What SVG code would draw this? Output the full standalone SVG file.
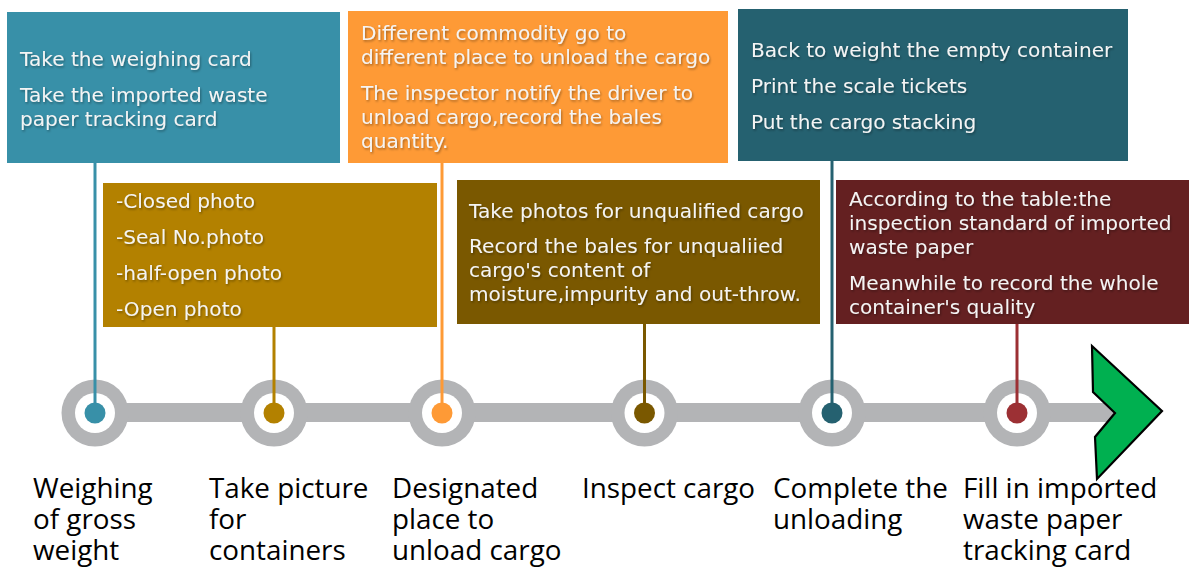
<svg xmlns="http://www.w3.org/2000/svg" width="1189" height="569" viewBox="0 0 1189 569">
  <defs>
    <filter id="shadow" x="-5%" y="-20%" width="110%" height="140%">
      <feDropShadow dx="1" dy="1.5" stdDeviation="1" flood-color="#000" flood-opacity="0.35"/>
    </filter>
  </defs>
  <style>
    .box-text { font-family: "DejaVu Sans", Verdana, sans-serif; font-size: 20.1px; fill: #F4F4F4; filter: url(#shadow); }
    .label { font-family: "Open Sans", "Noto Sans", sans-serif; font-size: 27.8px; fill: #000; }
    .ring { fill: #B3B4B6; }
    .hole { fill: #FFFFFF; }
    .conn { stroke-width: 3; fill: none; }
  </style>

  <rect width="1189" height="569" fill="#FFFFFF"/>

  <!-- timeline track with stop rings and end arrow -->
  <g id="track">
    <rect x="95" y="403" width="1022" height="19" fill="#B3B4B6"/>
    <g>
      <circle class="ring" cx="95" cy="413" r="33.5"/>
      <circle class="ring" cx="274" cy="413" r="33.5"/>
      <circle class="ring" cx="442" cy="413" r="33.5"/>
      <circle class="ring" cx="644.5" cy="413" r="33.5"/>
      <circle class="ring" cx="832" cy="413" r="33.5"/>
      <circle class="ring" cx="1017" cy="413" r="33.5"/>
    </g>
    <g>
      <circle class="hole" cx="95" cy="413" r="20"/>
      <circle class="hole" cx="274" cy="413" r="20"/>
      <circle class="hole" cx="442" cy="413" r="20"/>
      <circle class="hole" cx="644.5" cy="413" r="20"/>
      <circle class="hole" cx="832" cy="413" r="20"/>
      <circle class="hole" cx="1017" cy="413" r="20"/>
    </g>
    <polygon points="1092,346 1162,411 1097,479 1095,437 1115,413 1093,392" fill="#00B050" stroke="#000" stroke-width="2.2" stroke-linejoin="miter"/>
  </g>

  <!-- connectors from each card down to its stop -->
  <g id="connectors">
    <line class="conn" x1="95" y1="163" x2="95" y2="413" stroke="#3890A8"/>
    <line class="conn" x1="274" y1="326" x2="274" y2="413" stroke="#B38100"/>
    <line class="conn" x1="442" y1="162" x2="442" y2="413" stroke="#FE9A36"/>
    <line class="conn" x1="644.5" y1="324" x2="644.5" y2="413" stroke="#7A5800"/>
    <line class="conn" x1="832" y1="160" x2="832" y2="413" stroke="#256170"/>
    <line class="conn" x1="1017" y1="324" x2="1017" y2="413" stroke="#9C3034"/>
  </g>

  <!-- step 1 -->
  <g id="step-weighing">
    <rect x="7" y="12" width="333" height="151" fill="#3890A8"/>
    <text class="box-text" x="20" y="66">Take the weighing card</text>
    <text class="box-text" x="20" y="102">Take the imported waste</text>
    <text class="box-text" x="20" y="126">paper tracking card</text>
    <circle cx="95" cy="413" r="10.5" fill="#3890A8"/>
    <text class="label" x="33" y="498">Weighing</text>
    <text class="label" x="33" y="529">of gross</text>
    <text class="label" x="33" y="560">weight</text>
  </g>

  <!-- step 2 -->
  <g id="step-picture">
    <rect x="103" y="183" width="334" height="144" fill="#B38100"/>
    <text class="box-text" x="116" y="208">-Closed photo</text>
    <text class="box-text" x="116" y="244">-Seal No.photo</text>
    <text class="box-text" x="116" y="280">-half-open photo</text>
    <text class="box-text" x="116" y="316">-Open photo</text>
    <circle cx="274" cy="413" r="10.5" fill="#B38100"/>
    <text class="label" x="209" y="498">Take picture</text>
    <text class="label" x="209" y="529">for</text>
    <text class="label" x="209" y="560">containers</text>
  </g>

  <!-- step 3 -->
  <g id="step-designated">
    <rect x="348" y="11" width="380" height="152" fill="#FE9A36"/>
    <text class="box-text" x="361" y="40">Different commodity go to</text>
    <text class="box-text" x="361" y="64">different place to unload the cargo</text>
    <text class="box-text" x="361" y="100">The inspector notify the driver to</text>
    <text class="box-text" x="361" y="124">unload cargo,record the bales</text>
    <text class="box-text" x="361" y="148">quantity.</text>
    <circle cx="442" cy="413" r="10.5" fill="#FE9A36"/>
    <text class="label" x="392" y="498">Designated</text>
    <text class="label" x="392" y="529">place to</text>
    <text class="label" x="392" y="560">unload cargo</text>
  </g>

  <!-- step 4 -->
  <g id="step-inspect">
    <rect x="457" y="180" width="363" height="144" fill="#7A5800"/>
    <text class="box-text" x="469" y="218">Take photos for unqualified cargo</text>
    <text class="box-text" x="469" y="253">Record the bales for unqualiied</text>
    <text class="box-text" x="469" y="277">cargo's content of</text>
    <text class="box-text" x="469" y="301">moisture,impurity and out-throw.</text>
    <circle cx="644.5" cy="413" r="10.5" fill="#7A5800"/>
    <text class="label" x="582" y="498">Inspect cargo</text>
  </g>

  <!-- step 5 -->
  <g id="step-unloading">
    <rect x="738" y="9" width="390" height="152" fill="#256170"/>
    <text class="box-text" x="751" y="57">Back to weight the empty container</text>
    <text class="box-text" x="751" y="93">Print the scale tickets</text>
    <text class="box-text" x="751" y="129">Put the cargo stacking</text>
    <circle cx="832" cy="413" r="10.5" fill="#256170"/>
    <text class="label" x="773" y="498">Complete the</text>
    <text class="label" x="773" y="529">unloading</text>
  </g>

  <!-- step 6 -->
  <g id="step-tracking-card">
    <rect x="836" y="180" width="353" height="144" fill="#642021"/>
    <text class="box-text" x="849" y="206">According to the table:the</text>
    <text class="box-text" x="849" y="230">inspection standard of imported</text>
    <text class="box-text" x="849" y="254">waste paper</text>
    <text class="box-text" x="849" y="290">Meanwhile to record the whole</text>
    <text class="box-text" x="849" y="314">container's quality</text>
    <circle cx="1017" cy="413" r="10.5" fill="#9C3034"/>
    <text class="label" x="963" y="498">Fill in imported</text>
    <text class="label" x="963" y="529">waste paper</text>
    <text class="label" x="963" y="560">tracking card</text>
  </g>
</svg>
